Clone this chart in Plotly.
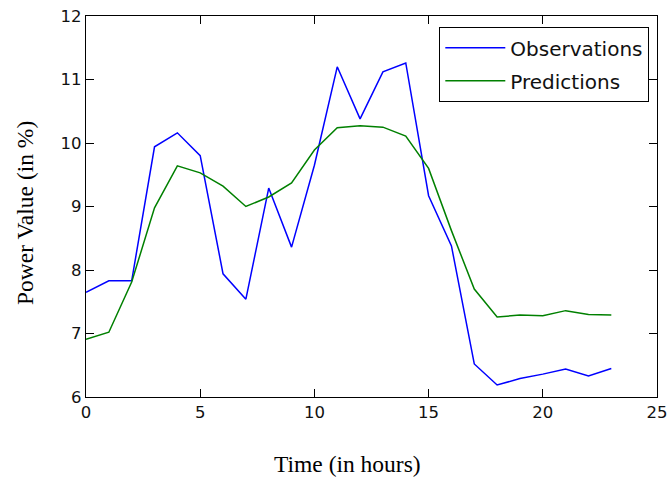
import plotly.graph_objects as go

hours = list(range(24))
observations = [7.65, 7.83, 7.83, 9.94, 10.16, 9.80, 7.94, 7.54, 9.29, 8.36, 9.65, 11.20,
                10.38, 11.12, 11.26, 9.17, 8.38, 6.52, 6.19, 6.29, 6.36, 6.44, 6.33, 6.45]
predictions = [6.91, 7.02, 7.81, 8.98, 9.64, 9.53, 9.32, 9.00, 9.15, 9.37, 9.89, 10.24,
               10.27, 10.25, 10.11, 9.60, 8.62, 7.70, 7.26, 7.29, 7.28, 7.36, 7.30, 7.29]
x_title = "Time (in hours)"
y_title = "Power Value (in %)"

fig = go.Figure()
fig.add_trace(go.Scatter(x=hours, y=observations, mode="lines", name="Observations",
                         legendgroup="obs", line=dict(color="#0000ff", width=1.5)))
fig.add_trace(go.Scatter(x=hours, y=predictions, mode="lines", name="Predictions",
                         legendgroup="pred", line=dict(color="#008000", width=1.5)))

axis_common = dict(showgrid=False, zeroline=False, showline=True, linecolor="black",
                   linewidth=1.3, mirror="ticks", ticks="inside", ticklen=8,
                   tickcolor="black", automargin=False,
                   tickfont=dict(family="DejaVu Sans", size=16.5, color="#111"))

fig.update_layout(
    width=668, height=477,
    margin=dict(l=86, r=11, t=16, b=80),
    paper_bgcolor="white", plot_bgcolor="white",
    xaxis=dict(range=[0, 25], dtick=5, **axis_common),
    yaxis=dict(range=[6, 12], dtick=1, **axis_common),
    legend=dict(x=0.986, y=0.971, xanchor="right", yanchor="top",
                bordercolor="black", borderwidth=1.3, bgcolor="white",
                font=dict(family="DejaVu Sans", size=20, color="#111"),
                itemwidth=60, tracegroupgap=4),
    showlegend=True,
    annotations=[
        dict(text=x_title, xref="paper", yref="paper", x=(347 - 86) / 571, y=-(464 - 397) / 381,
             xanchor="center", yanchor="middle", showarrow=False,
             font=dict(family="Liberation Serif", size=23.5, color="black")),
        dict(text=y_title, xref="paper", yref="paper", x=-(86 - 25) / 571, y=1 - (213 - 16) / 381,
             xanchor="center", yanchor="middle", showarrow=False, textangle=-90,
             font=dict(family="Liberation Serif", size=23.5, color="black")),
    ],
)

# remove the page's default 8px body margin so the figure fills the window exactly
fig.write_html("out.html", config={"displayModeBar": False},
               post_script="document.body.style.margin='0px';document.body.style.overflow='hidden';")
